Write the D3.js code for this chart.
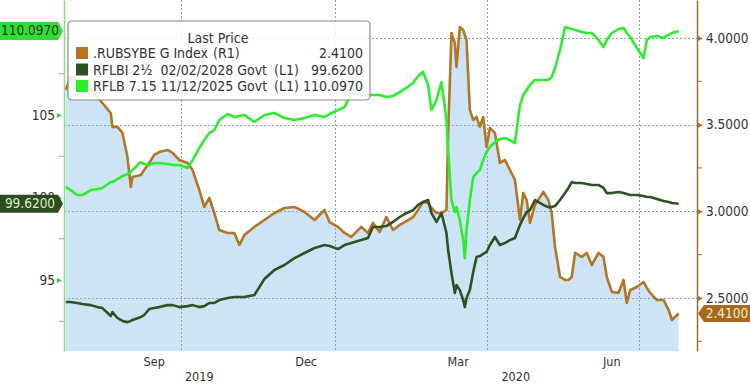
<!DOCTYPE html>
<html>
<head>
<meta charset="utf-8">
<script src="https://cdn.jsdelivr.net/npm/d3@7"></script>
<style>
  body { margin: 0; background: #fff; }
  svg text { font-family: "DejaVu Sans Condensed", "DejaVu Sans", sans-serif; font-stretch: condensed; }
</style>
</head>
<body>
<div id="chart"></div>
<script>
// sample dates (shared by the three series)
var dates = [
  "2019-07-24","2019-07-27","2019-07-31","2019-08-03","2019-08-08","2019-08-12","2019-08-15","2019-08-20","2019-08-21","2019-08-24",
  "2019-08-27","2019-08-30","2019-09-01","2019-09-02","2019-09-07","2019-09-09","2019-09-12","2019-09-15","2019-09-18","2019-09-23",
  "2019-09-26","2019-09-30","2019-10-05","2019-10-08","2019-10-12","2019-10-15","2019-10-18","2019-10-21","2019-10-24","2019-10-29",
  "2019-11-02","2019-11-05","2019-11-08","2019-11-14","2019-11-20","2019-11-26","2019-12-02","2019-12-08","2019-12-14","2019-12-20",
  "2019-12-26","2019-12-29","2020-01-03","2020-01-07","2020-01-11","2020-01-17","2020-01-21","2020-01-24","2020-01-28","2020-02-01",
  "2020-02-05","2020-02-09","2020-02-12","2020-02-17","2020-02-20","2020-02-23","2020-02-26","2020-02-28","2020-03-02","2020-03-05",
  "2020-03-08","2020-03-09","2020-03-11","2020-03-13","2020-03-14","2020-03-16","2020-03-18","2020-03-19","2020-03-20","2020-03-22",
  "2020-03-24","2020-03-26","2020-03-28","2020-03-30","2020-04-01","2020-04-03","2020-04-06","2020-04-09","2020-04-12","2020-04-15",
  "2020-04-18","2020-04-21","2020-04-23","2020-04-25","2020-04-27","2020-04-30","2020-05-05","2020-05-08","2020-05-10","2020-05-12",
  "2020-05-15","2020-05-18","2020-05-20","2020-05-22","2020-05-24","2020-05-28","2020-05-31","2020-06-03","2020-06-07","2020-06-10",
  "2020-06-12","2020-06-15","2020-06-19","2020-06-22","2020-06-24","2020-06-26","2020-06-30","2020-07-04","2020-07-06","2020-07-08",
  "2020-07-12","2020-07-16","2020-07-19","2020-07-21","2020-07-25"
];

// .RUBSYBE G Index (R1)
var rubsybe = [
  3.700,3.775,3.758,3.717,3.700,3.660,3.625,3.567,3.487,3.487,
  3.452,3.313,3.140,3.198,3.210,3.238,3.279,3.325,3.342,3.354,
  3.337,3.296,3.279,3.238,3.123,3.025,3.077,2.990,2.892,2.875,
  2.875,2.806,2.863,2.910,2.950,2.990,3.019,3.025,2.996,2.950,
  3.008,2.938,2.910,2.875,2.852,2.910,2.875,2.933,2.881,2.967,
  2.892,2.921,2.938,2.967,3.008,3.054,3.048,3.019,2.990,2.990,
  3.008,3.452,4.029,3.971,3.833,4.063,4.046,4.017,3.988,3.585,
  3.527,3.544,3.487,3.544,3.371,3.481,3.452,3.279,3.296,3.238,
  3.181,2.950,3.106,3.065,2.933,3.037,3.112,3.065,2.990,2.794,
  2.621,2.604,2.604,2.621,2.760,2.737,2.760,2.690,2.760,2.737,
  2.621,2.535,2.529,2.604,2.471,2.546,2.563,2.592,2.558,2.529,
  2.488,2.488,2.431,2.373,2.410
];

// RFLBI 2½ 02/02/2028 Govt (L1)
var rflbi = [
  93.67,93.67,93.61,93.55,93.48,93.36,93.30,92.82,93.06,92.70,
  92.52,92.45,92.52,92.58,92.76,92.88,93.24,93.30,93.36,93.48,
  93.48,93.36,93.42,93.48,93.36,93.42,93.61,93.61,93.79,93.91,
  93.97,93.97,93.97,94.09,95.06,95.61,95.91,96.33,96.64,96.94,
  97.12,97.06,96.88,97.12,97.24,97.42,97.55,98.21,98.21,98.27,
  98.52,98.82,99.00,99.24,99.55,99.73,99.85,99.06,98.52,99.06,
  97.85,96.82,95.42,94.21,94.70,94.39,93.79,93.36,93.91,94.39,
  95.48,96.39,96.45,96.58,96.70,97.12,97.61,97.12,97.24,97.42,
  97.55,98.33,98.76,99.12,99.24,99.85,99.55,99.42,99.42,99.48,
  99.85,100.27,100.58,100.94,100.88,100.88,100.82,100.76,100.76,100.58,
  100.27,100.27,100.33,100.27,100.21,100.15,100.15,100.09,100.03,100.03,
  99.91,99.79,99.73,99.67,99.62
];

// RFLB 7.15 11/12/2025 Govt (L1)
var rflb = [
  100.64,100.45,100.15,100.15,100.45,100.52,100.58,100.94,100.94,101.12,
  101.30,101.42,101.55,101.67,102.15,102.03,101.97,102.09,102.09,102.03,
  101.97,101.97,101.79,102.27,103.00,103.48,103.91,104.09,104.70,105.06,
  104.88,104.94,105.00,104.58,105.00,105.12,104.82,104.70,104.82,105.00,
  104.88,105.06,105.30,105.48,106.33,106.21,106.21,106.21,106.21,106.09,
  106.15,106.39,106.58,106.94,107.36,107.61,106.82,105.30,105.91,107.00,
  104.70,102.88,99.85,99.12,99.42,98.64,97.42,96.33,98.03,99.85,
  101.24,101.48,101.67,102.27,102.76,103.06,103.36,103.55,103.61,103.48,
  103.30,105.61,106.21,106.52,106.82,107.12,107.12,107.12,107.30,107.85,
  108.94,110.33,110.27,110.21,110.15,110.03,109.97,109.97,109.55,109.12,
  109.55,109.97,110.21,110.27,109.97,109.73,109.06,108.45,109.55,109.73,
  109.79,109.67,109.85,109.97,110.097
];

var seriesNames = [".RUBSYBE G Index", "RFLBI 2\u00bd  02/02/2028 Govt", "RFLB 7.15 11/12/2025 Govt"];
var seriesAxis = ["(R1)", "(L1)", "(L1)"];
var lastValues = ["2.4100", "99.6200", "110.0970"];
var colors = ["#b47624", "#2e5322", "#2aef2a"];

var leftTicks = [95, 100, 105, 110];
var leftMinor = [92.5, 97.5, 102.5, 107.5];
var rightTicks = [2.5, 3.0, 3.5, 4.0];
var rightMinor = [2.25, 2.75, 3.25, 3.75];
var monthLabels = ["Sep", "Dec", "Mar", "Jun"];
var monthDates = ["2019-09-15", "2019-12-15", "2020-03-15", "2020-06-15"];
var gridDates = ["2019-10-01", "2020-01-01", "2020-04-01", "2020-07-01"];
var yearLabels = ["2019", "2020"];

var parse = d3.timeParse("%Y-%m-%d");
var W = 750, H = 384;
var plotLeft = 64, plotRight = 697, plotTop = 0, plotBottom = 351;

var svg = d3.select("#chart").append("svg")
    .attr("width", W)
    .attr("height", H);

var x = d3.scaleTime()
    .domain([parse("2019-07-23"), parse("2020-08-05")])
    .range([plotLeft, plotRight]);

var yL = d3.scaleLinear()
    .domain([90.70, 111.97])
    .range([plotBottom, plotTop]);

var yR = d3.scaleLinear()
    .domain([2.194, 4.219])
    .range([plotBottom, plotTop]);

var data = dates.map(function (d, i) {
    return { date: parse(d), r: rubsybe[i], a: rflbi[i], b: rflb[i] };
});

// area under the index (R1)
var area = d3.area()
    .x(function (d) { return x(d.date); })
    .y0(plotBottom)
    .y1(function (d) { return yR(d.r); });

svg.append("path")
    .datum(data)
    .attr("d", area)
    .attr("fill", "#cde4f7");

// grid
var grid = svg.append("g").attr("class", "grid");
grid.selectAll(".hg")
    .data(rightTicks)
    .enter()
    .append("line")
    .attr("x1", plotLeft).attr("x2", plotRight)
    .attr("y1", function (d) { return Math.round(yR(d)) + 0.5; })
    .attr("y2", function (d) { return Math.round(yR(d)) + 0.5; })
    .attr("stroke", "#8fa3b8")
    .attr("stroke-dasharray", "2,2");

grid.selectAll(".vg")
    .data(gridDates)
    .enter()
    .append("line")
    .attr("x1", function (d) { return Math.round(x(parse(d))) + 0.5; })
    .attr("x2", function (d) { return Math.round(x(parse(d))) + 0.5; })
    .attr("y1", plotTop).attr("y2", plotBottom)
    .attr("stroke", "#8fa3b8")
    .attr("stroke-dasharray", "2,2");

// series lines
var lineR = d3.line()
    .x(function (d) { return x(d.date); })
    .y(function (d) { return yR(d.r); });
var lineA = d3.line()
    .x(function (d) { return x(d.date); })
    .y(function (d) { return yL(d.a); });
var lineB = d3.line()
    .x(function (d) { return x(d.date); })
    .y(function (d) { return yL(d.b); });

svg.append("path").datum(data).attr("d", lineR)
    .attr("fill", "none").attr("stroke", colors[0]).attr("stroke-width", 2.6)
    .attr("stroke-linejoin", "round");
svg.append("path").datum(data).attr("d", lineB)
    .attr("fill", "none").attr("stroke", colors[2]).attr("stroke-width", 2.6)
    .attr("stroke-linejoin", "round");
svg.append("path").datum(data).attr("d", lineA)
    .attr("fill", "none").attr("stroke", colors[1]).attr("stroke-width", 2.6)
    .attr("stroke-linejoin", "round");

// left axis
var yAxisL = d3.axisLeft(yL).tickValues(leftTicks).tickSize(0).tickPadding(9)
    .tickFormat(d3.format("d"));
var gl = svg.append("g")
    .attr("transform", "translate(" + plotLeft + ",0)")
    .call(yAxisL);
gl.select(".domain").attr("stroke", "#86e086").attr("stroke-width", 1.5);
gl.selectAll(".tick text").attr("fill", "#333").style("font-size", "13.5px");
gl.selectAll(".tick").append("path")
    .attr("d", "M-7,-2.5 L-2,0 L-7,2.5 Z")
    .attr("fill", "#3ed63e");
gl.selectAll(".minor")
    .data(leftMinor)
    .enter()
    .append("line")
    .attr("x1", -5).attr("x2", 0)
    .attr("y1", function (d) { return yL(d); })
    .attr("y2", function (d) { return yL(d); })
    .attr("stroke", "#8ab08a");

// right axis
var yAxisR = d3.axisRight(yR).tickValues(rightTicks).tickSize(0).tickPadding(9)
    .tickFormat(d3.format(".4f"));
var gr = svg.append("g")
    .attr("transform", "translate(" + plotRight + ",0)")
    .call(yAxisR);
gr.select(".domain").attr("stroke", "#9c6c2c").attr("stroke-width", 1.5);
gr.selectAll(".tick text").attr("fill", "#333").style("font-size", "13.5px");
gr.selectAll(".tick").append("path")
    .attr("d", "M1,-2.5 L6,0 L1,2.5 Z")
    .attr("fill", "#b47624");
gr.selectAll(".minor")
    .data(rightMinor)
    .enter()
    .append("line")
    .attr("x1", 0).attr("x2", 5)
    .attr("y1", function (d) { return yR(d); })
    .attr("y2", function (d) { return yR(d); })
    .attr("stroke", "#9c6c2c");

// x labels
svg.selectAll(".month")
    .data(monthLabels)
    .enter()
    .append("text")
    .attr("x", function (d, i) { return x(parse(monthDates[i])); })
    .attr("y", 366)
    .attr("text-anchor", "middle")
    .style("font-size", "12.5px")
    .attr("fill", "#333")
    .text(function (d) { return d; });

var yearMid = [
    (x.range()[0] + x(parse("2020-01-01"))) / 2,
    (x(parse("2020-01-01")) + x.range()[1]) / 2
];
svg.selectAll(".year")
    .data(yearLabels)
    .enter()
    .append("text")
    .attr("x", function (d, i) { return yearMid[i]; })
    .attr("y", 381)
    .attr("text-anchor", "middle")
    .style("font-size", "12.5px")
    .attr("fill", "#333")
    .text(function (d) { return d; });

// legend
var lg = svg.append("g").attr("transform", "translate(68,21)");
lg.append("rect")
    .attr("width", 302).attr("height", 79)
    .attr("rx", 4)
    .attr("fill", "#fff").attr("fill-opacity", 0.85)
    .attr("stroke", "#8a8a8a").attr("stroke-width", 1.2);
lg.append("text")
    .attr("x", 150).attr("y", 22)
    .attr("text-anchor", "middle")
    .style("font-size", "14px")
    .attr("fill", "#333")
    .text("Last Price");
var rows = lg.selectAll(".row")
    .data(seriesNames)
    .enter()
    .append("g")
    .attr("transform", function (d, i) { return "translate(0," + (37 + i * 16.5) + ")"; });
rows.append("rect")
    .attr("x", 8).attr("y", -11)
    .attr("width", 12).attr("height", 12)
    .attr("fill", function (d, i) { return colors[i]; });
rows.append("text")
    .attr("x", 25).attr("y", 0)
    .style("font-size", "14px")
    .style("white-space", "pre")
    .attr("fill", "#333")
    .text(function (d) { return d; });
rows.append("text")
    .attr("x", function (d, i) { return i === 0 ? 145 : 206; })
    .attr("y", 0)
    .style("font-size", "14px")
    .attr("fill", "#333")
    .text(function (d, i) { return seriesAxis[i]; });
rows.append("text")
    .attr("x", 295).attr("y", 0)
    .attr("text-anchor", "end")
    .style("font-size", "14px")
    .attr("fill", "#333")
    .text(function (d, i) { return lastValues[i]; });

// last value tags
function leftTag(v, label, fill, txt) {
    var yy = yL(v);
    svg.append("path")
        .attr("d", "M0," + (yy - 9) + " H58 L63," + yy + " L58," + (yy + 9) + " H0 Z")
        .attr("fill", fill);
    svg.append("text")
        .attr("x", 30).attr("y", yy + 4.5)
        .attr("text-anchor", "middle")
        .style("font-size", "13.5px")
        .attr("fill", txt)
        .text(label);
}
leftTag(rflbi[rflbi.length - 1], lastValues[1], "#2e4d1f", "#d6efc4");
leftTag(rflb[rflb.length - 1], lastValues[2], "#33dd33", "#173a10");

var ry = yR(rubsybe[rubsybe.length - 1]);
svg.append("path")
    .attr("d", "M698," + ry + " L704," + (ry - 8.5) + " H750 V" + (ry + 8.5) + " H704 Z")
    .attr("fill", "#a8691e");
svg.append("text")
    .attr("x", 727).attr("y", ry + 4.5)
    .attr("text-anchor", "middle")
    .style("font-size", "13.5px")
    .attr("fill", "#f7e8cc")
    .text(lastValues[0]);
</script>
</body>
</html>
